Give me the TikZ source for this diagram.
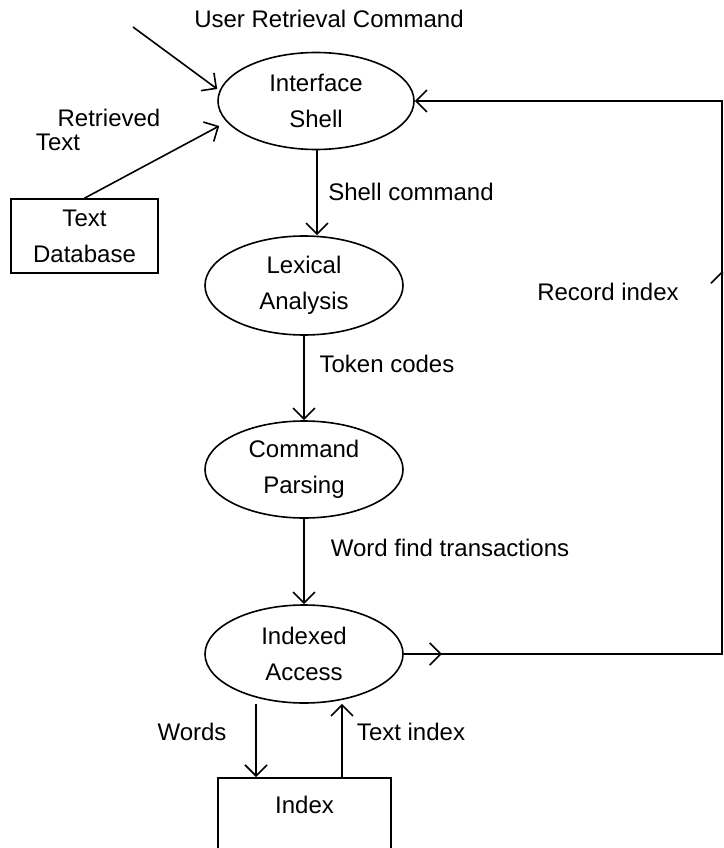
\documentclass[tikz,border=0pt]{standalone}
\usepackage{fontspec}
\setmainfont{Liberation Sans}
\usepackage{tikz}
\usetikzlibrary{arrows.meta,positioning,shapes.geometric,decorations.markings}
\tikzset{every node/.append style={align=center}}
\tikzset{vtip/.tip={Straight Barb[length=11pt,width=22pt]}}

\begin{document}
\begin{tikzpicture}[x=1pt,y=-1pt,line width=1.6pt,
  every node/.style={font=\fontsize{24}{36}\selectfont,align=center,inner sep=0pt},
  proc/.style={draw,ellipse,minimum width=198pt,minimum height=97pt},
  store/.style={draw,rectangle},
  flow/.style={-vtip},
  midtips/.style={postaction={decorate,decoration={markings,
      mark=at position 38pt with {\arrow{vtip}},
      mark=at position 701pt with {\arrow{vtip}}}}}]
  \clip (0,0) rectangle (723,848);

  % processes
  \node[proc, minimum width=196pt] (shell) at (316,101) {Interface\\Shell};
  \node[proc, minimum height=99pt] (lex) at (304,285.5) {Lexical\\Analysis};
  \node[proc] (cmd) at (304,469.5) {Command\\Parsing};
  \node[proc, minimum height=98pt] (idx) at (304,654) {Indexed\\Access};

  % stores
  \node[store, minimum width=147pt, minimum height=74pt] (db) at (84.5,236) {Text\\Database};
  \node[store, anchor=north, minimum width=173pt, text height=36pt, text depth=44pt] (index) at (304.5,777) {Index};

  \coordinate (user) at (133,27);
  \coordinate (rside) at (722,0);

  % flows
  \draw[flow] (user) -- ([yshift=12pt]shell.west);
  \draw[flow] (db.north) -- ([xshift=2pt,yshift=-25pt]shell.west);
  \draw[flow] ([xshift=1pt]shell.south) -- ([xshift=1pt]shell.south |- lex.north);
  \draw[flow] (lex.south) -- (cmd.north);
  \draw[flow] (cmd.south) -- (idx.north);
  \draw[flow] ([xshift=-48pt]idx.south) -- ([xshift=-48pt]idx.south |- index.north);
  \draw[flow] ([xshift=38pt]idx.south |- index.north) -- ([xshift=38pt]idx.south);
  \draw[flow, midtips] (idx.east) -- (idx.east -| rside) -- (shell.east -| rside) -- (shell.east);

  % labels
  \node (lbluser) at (329,19) {User Retrieval Command};
  \node (lblret) at (109,118) {Retrieved};
  \node (lbltext) at (58,142) {Text};
  \node (lblshell) at (411,192) {Shell command};
  \node (lbltoken) at (387,364) {Token codes};
  \node (lblword) at (450,548) {Word find transactions};
  \node (lblrec) at (608,292) {Record index};
  \node (lblwords) at (192,732) {Words};
  \node (lbltidx) at (411,732) {Text index};
\end{tikzpicture}
\end{document}
